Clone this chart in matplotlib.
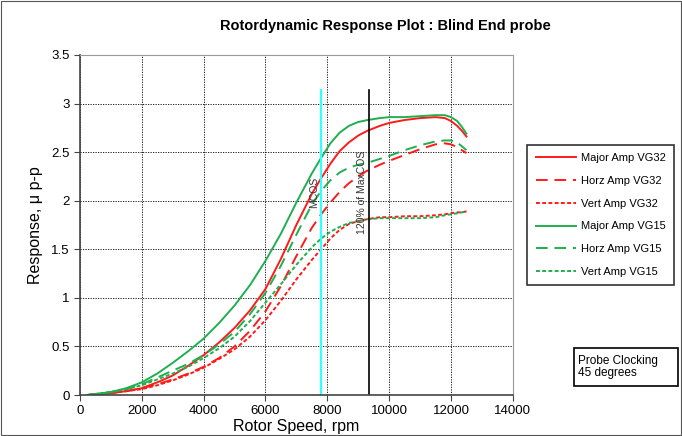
import matplotlib
matplotlib.use("Agg")
import matplotlib.pyplot as plt

plt.rcParams["font.family"] = ["Liberation Sans", "DejaVu Sans"]

# ---------------- DATA ----------------
speed = [250, 1000, 1500, 2000, 2500, 3000, 3500, 4000, 4500, 5000, 5500, 6000,
         6500, 7000, 7500, 7800, 8100, 8400, 8700, 9000, 9300, 9700, 10000,
         10500, 11000, 11500, 11800, 12000, 12200, 12350, 12500]

major_vg32 = [0, 0.02, 0.04, 0.07, 0.13, 0.20, 0.30, 0.41, 0.54, 0.69, 0.87, 1.09,
              1.40, 1.75, 2.07, 2.23, 2.38, 2.51, 2.60, 2.67, 2.72, 2.77, 2.80,
              2.83, 2.85, 2.86, 2.85, 2.82, 2.77, 2.72, 2.66]
horz_vg32 = [0, 0.02, 0.04, 0.07, 0.11, 0.16, 0.22, 0.29, 0.38, 0.50, 0.66, 0.86,
             1.12, 1.43, 1.72, 1.86, 1.98, 2.09, 2.18, 2.25, 2.31, 2.37, 2.41,
             2.47, 2.53, 2.58, 2.59, 2.58, 2.55, 2.52, 2.49]
vert_vg32 = [0, 0.02, 0.04, 0.06, 0.10, 0.15, 0.21, 0.28, 0.37, 0.47, 0.60, 0.77,
             0.97, 1.19, 1.39, 1.50, 1.61, 1.70, 1.76, 1.79, 1.81, 1.83, 1.83,
             1.84, 1.84, 1.85, 1.86, 1.87, 1.88, 1.88, 1.89]
major_vg15 = [0, 0.03, 0.07, 0.13, 0.22, 0.33, 0.45, 0.58, 0.74, 0.92, 1.13, 1.38,
              1.66, 1.98, 2.28, 2.44, 2.59, 2.70, 2.77, 2.81, 2.83, 2.85, 2.86,
              2.86, 2.87, 2.88, 2.88, 2.86, 2.82, 2.76, 2.69]
horz_vg15 = [0, 0.03, 0.06, 0.11, 0.18, 0.25, 0.32, 0.41, 0.52, 0.65, 0.83, 1.05,
             1.33, 1.65, 1.96, 2.10, 2.21, 2.29, 2.34, 2.37, 2.39, 2.43, 2.46,
             2.52, 2.57, 2.61, 2.62, 2.62, 2.60, 2.56, 2.52]
vert_vg15 = [0, 0.03, 0.06, 0.10, 0.16, 0.22, 0.29, 0.38, 0.48, 0.60, 0.76, 0.95,
             1.14, 1.34, 1.52, 1.61, 1.68, 1.73, 1.77, 1.79, 1.81, 1.82, 1.82,
             1.82, 1.82, 1.83, 1.85, 1.86, 1.87, 1.88, 1.89]

mcos = 7800
max_cos_120 = 9360
marker_top = 3.14
# --------------------------------------

RED = "#FF1A1A"
GREEN = "#1FAF50"

fig = plt.figure(figsize=(6.82, 4.36), dpi=100)
ax = fig.add_axes([0.117, 0.094, 0.635, 0.78])

series = [
    (major_vg32, "Major Amp VG32", RED, "-"),
    (horz_vg32, "Horz Amp VG32", RED, (0, (6, 3.5))),
    (vert_vg32, "Vert Amp VG32", RED, (0, (2, 1.2))),
    (major_vg15, "Major Amp VG15", GREEN, "-"),
    (horz_vg15, "Horz Amp VG15", GREEN, (0, (6, 3.5))),
    (vert_vg15, "Vert Amp VG15", GREEN, (0, (2, 1.2))),
]
for vals, label, color, ls in series:
    ax.plot(speed, vals, color=color, linestyle=ls, linewidth=1.4, label=label,
            solid_joinstyle="round")

ax.plot([mcos, mcos], [0, marker_top], color="#33FFFF", linewidth=1.6)
ax.plot([max_cos_120, max_cos_120], [0, marker_top], color="black", linewidth=1.2)
ax.text(mcos - 60, 2.09, "MCOS", rotation=90, ha="right", va="center", fontsize=7.5,
        color="#333333")
ax.text(max_cos_120 - 60, 2.09, "120% of MaxCOS", rotation=90, ha="right",
        va="center", fontsize=7.5, color="#333333")

ax.set_xlim(0, 14000)
ax.set_ylim(0, 3.5)
ax.set_xticks(range(0, 14001, 2000))
ax.set_yticks([0, 0.5, 1, 1.5, 2, 2.5, 3, 3.5])
ax.set_yticklabels(["0", "0.5", "1", "1.5", "2", "2.5", "3", "3.5"])
ax.grid(True, color="black", linestyle=(0, (1.5, 1.5)), linewidth=0.6)
ax.tick_params(labelsize=9.5, length=4, color="#444444")
for side in ["top", "right"]:
    ax.spines[side].set_color("#999999")
for side in ["left", "bottom"]:
    ax.spines[side].set_color("#444444")
    ax.spines[side].set_linewidth(1.2)

ax.set_xlabel("Rotor Speed, rpm", fontsize=11.5, labelpad=1)
ax.set_ylabel("Response, \u03bc p-p", fontsize=11.5, labelpad=6)
fig.text(0.565, 0.94, "Rotordynamic Response Plot : Blind End probe", ha="center",
         va="center", fontsize=10.5, fontweight="bold")

leg = fig.legend(loc="upper left", bbox_to_anchor=(0.773, 0.668), fontsize=8,
                 frameon=True, fancybox=False, edgecolor="black", handlelength=3.6,
                 labelspacing=1.15, borderpad=0.75, handletextpad=0.5,
                 borderaxespad=0)
leg.get_frame().set_linewidth(1.2)

box = plt.Rectangle((574 / 682, 1 - 386 / 436), 104 / 682, 38 / 436,
                    transform=fig.transFigure, facecolor="white", edgecolor="black",
                    linewidth=1.2)
fig.patches.append(box)
fig.text(578 / 682, 1 - 367 / 436, "Probe Clocking\n45 degrees", ha="left",
         va="center", fontsize=8.5, linespacing=1.1)

border = plt.Rectangle((0.002, 0.002), 0.996, 0.996, transform=fig.transFigure,
                       fill=False, edgecolor="#555555", linewidth=0.8)
fig.patches.append(border)

fig.savefig("out.png", dpi=100)
